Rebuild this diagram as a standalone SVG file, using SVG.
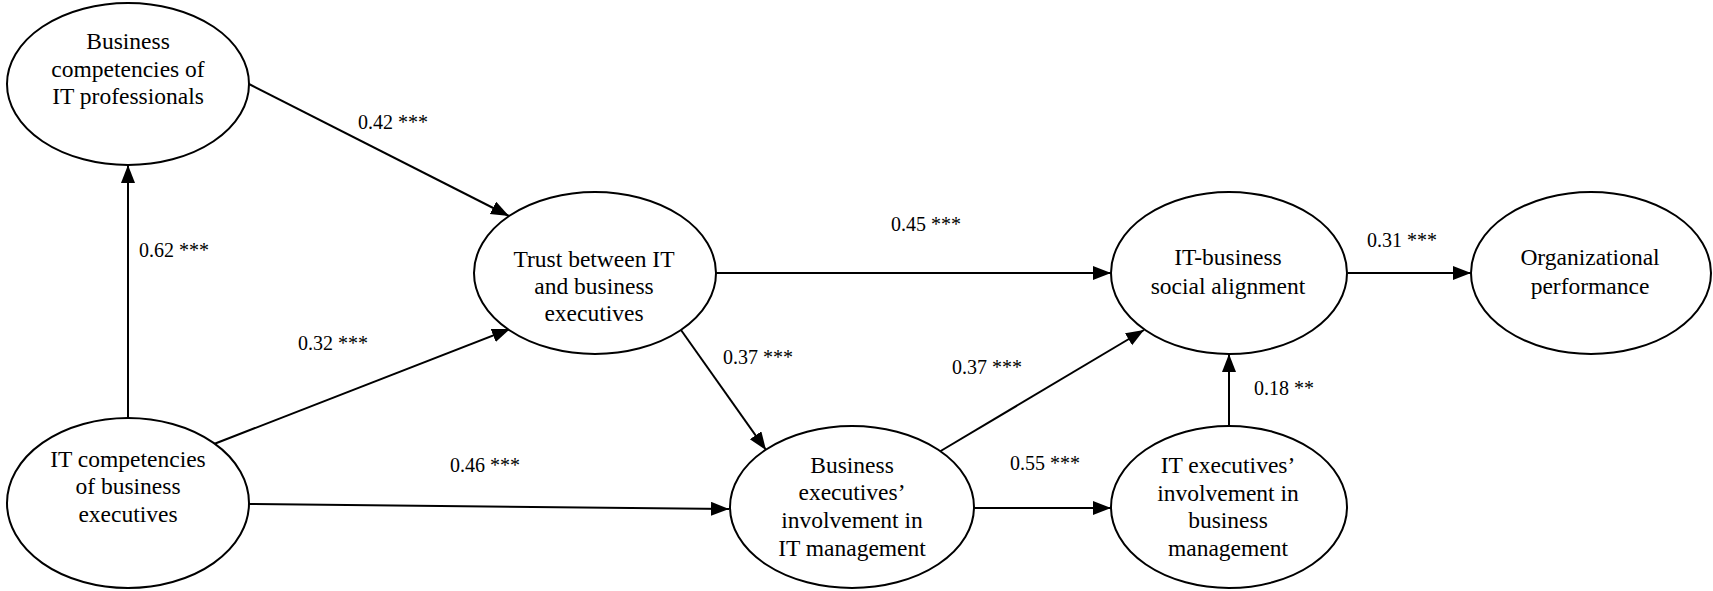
<svg xmlns="http://www.w3.org/2000/svg" width="1713" height="591" viewBox="0 0 1713 591">
<style>
.node ellipse{fill:#fff;stroke:#000;stroke-width:2}
.node text{font-family:'Liberation Serif','Times New Roman',serif;font-size:23.5px;text-anchor:middle;fill:#000}
.lbl{font-family:'Liberation Serif','Times New Roman',serif;font-size:20px;fill:#000}
.edges line{stroke:#000;stroke-width:2;marker-end:url(#ah)}
</style>
<defs>
<marker id="ah" markerUnits="userSpaceOnUse" markerWidth="20" markerHeight="16" refX="18" refY="7" orient="auto">
<path d="M0,0 L18,7 L0,14 Z" fill="#000"/>
</marker>
</defs>
<rect width="1713" height="591" fill="#fff"/>
<g id="connectors" class="edges">
<line x1="128" y1="418" x2="128" y2="165"/>
<line x1="249" y1="84" x2="509" y2="216"/>
<line x1="214" y1="444" x2="510" y2="329"/>
<line x1="249" y1="504" x2="729" y2="509"/>
<line x1="681" y1="330" x2="766" y2="450"/>
<line x1="715" y1="273" x2="1111" y2="273"/>
<line x1="939" y1="452" x2="1144" y2="330"/>
<line x1="973" y1="508" x2="1111" y2="508"/>
<line x1="1229" y1="427" x2="1229" y2="354"/>
<line x1="1348" y1="273" x2="1471" y2="273"/>
</g>
<g id="bcit" class="node">
<ellipse cx="128" cy="84" rx="121" ry="81"/>
<text x="128" y="49">Business</text>
<text x="128" y="77">competencies of</text>
<text x="128" y="104">IT professionals</text>
</g>
<g id="trust" class="node">
<ellipse cx="595" cy="273" rx="121" ry="81"/>
<text x="594" y="267">Trust between IT</text>
<text x="594" y="294">and business</text>
<text x="594" y="321">executives</text>
</g>
<g id="itcb" class="node">
<ellipse cx="128" cy="503" rx="121" ry="85"/>
<text x="128" y="467">IT competencies</text>
<text x="128" y="494">of business</text>
<text x="128" y="522">executives</text>
</g>
<g id="bei" class="node">
<ellipse cx="852" cy="507" rx="122" ry="81"/>
<text x="852" y="473">Business</text>
<text x="852" y="500">executives&#8217;</text>
<text x="852" y="528">involvement in</text>
<text x="852" y="556">IT management</text>
</g>
<g id="itb" class="node">
<ellipse cx="1229" cy="273" rx="118" ry="81"/>
<text x="1228" y="265">IT-business</text>
<text x="1228" y="294">social alignment</text>
</g>
<g id="op" class="node">
<ellipse cx="1591" cy="273" rx="120" ry="81"/>
<text x="1590" y="265">Organizational</text>
<text x="1590" y="294">performance</text>
</g>
<g id="itei" class="node">
<ellipse cx="1229" cy="507" rx="118" ry="81"/>
<text x="1228" y="473">IT executives&#8217;</text>
<text x="1228" y="501">involvement in</text>
<text x="1228" y="528">business</text>
<text x="1228" y="556">management</text>
</g>
<g id="labels">
<text class="lbl" x="358" y="129">0.42 ***</text>
<text class="lbl" x="139" y="257">0.62 ***</text>
<text class="lbl" x="298" y="350">0.32 ***</text>
<text class="lbl" x="891" y="231">0.45 ***</text>
<text class="lbl" x="723" y="364">0.37 ***</text>
<text class="lbl" x="952" y="374">0.37 ***</text>
<text class="lbl" x="450" y="472">0.46 ***</text>
<text class="lbl" x="1010" y="470">0.55 ***</text>
<text class="lbl" x="1254" y="395">0.18 **</text>
<text class="lbl" x="1367" y="247">0.31 ***</text>
</g>
</svg>
